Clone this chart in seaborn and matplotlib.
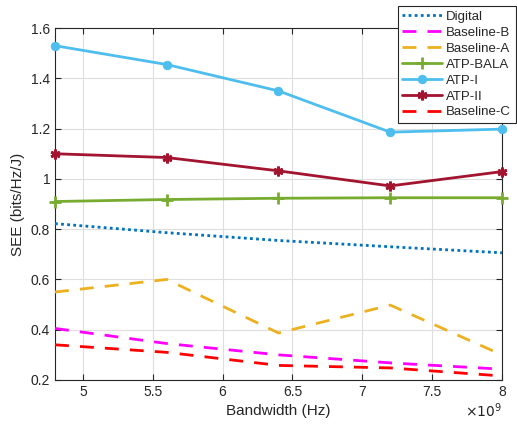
import matplotlib
matplotlib.use("Agg")
import matplotlib.pyplot as plt
import seaborn as sns
import numpy as np
import pandas as pd
from matplotlib.ticker import FuncFormatter

bandwidth = [4.8e9, 5.6e9, 6.4e9, 7.2e9, 8.0e9]
digital = [0.822, 0.786, 0.755, 0.730, 0.706]
baseline_b = [0.405, 0.345, 0.300, 0.268, 0.243]
baseline_a = [0.550, 0.600, 0.387, 0.498, 0.300]
atp_bala = [0.910, 0.918, 0.923, 0.925, 0.925]
atp_i = [1.530, 1.455, 1.350, 1.186, 1.198]
atp_ii = [1.100, 1.085, 1.032, 0.972, 1.029]
baseline_c = [0.340, 0.310, 0.258, 0.248, 0.216]

series_names = ["Digital", "Baseline-B", "Baseline-A", "ATP-BALA", "ATP-I", "ATP-II", "Baseline-C"]
series_vals = [digital, baseline_b, baseline_a, atp_bala, atp_i, atp_ii, baseline_c]
x_ticks = [5e9, 5.5e9, 6e9, 6.5e9, 7e9, 7.5e9, 8e9]
y_ticks = [0.2, 0.4, 0.6, 0.8, 1.0, 1.2, 1.4, 1.6]

sns.set_theme(style="whitegrid")
plt.rcParams['font.family'] = ['Liberation Sans', 'DejaVu Sans']

styles = {
    "Digital": dict(color=(0, 0.447, 0.741), linestyle=(0, (1, 1.2)), marker=None),
    "Baseline-B": dict(color=(1, 0, 1), linestyle=(0, (5, 4)), marker=None),
    "Baseline-A": dict(color=(0.929, 0.694, 0.125), linestyle=(0, (5, 4)), marker=None),
    "ATP-BALA": dict(color=(0.466, 0.674, 0.188), linestyle='-', marker='+', markersize=8, markeredgewidth=2),
    "ATP-I": dict(color=(0.301, 0.745, 0.933), linestyle='-', marker='o', markersize=6),
    "ATP-II": dict(color=(0.635, 0.078, 0.184), linestyle='-', marker=(6, 2, 0), markersize=7, markeredgewidth=2),
    "Baseline-C": dict(color=(1, 0, 0), linestyle=(0, (5, 4)), marker=None),
}

fig = plt.figure(figsize=(5.17, 4.24), dpi=100)
ax = fig.add_axes([0.1064, 0.1038, 0.8645, 0.830])

for name, vals in zip(series_names, series_vals):
    df = pd.DataFrame({"x": bandwidth, "y": vals})
    st = dict(styles[name])
    col = st.pop("color")
    ls = st.pop("linestyle")
    sns.lineplot(data=df, x="x", y="y", ax=ax, color=col, linewidth=2, label=name,
                 **{k: v for k, v in st.items() if v is not None})
    ln = ax.lines[-1]
    ln.set_linestyle(ls)
    ln.set_clip_on(False)
    ln.set_zorder(3)
    if st.get("marker"):
        ln.set_markeredgecolor(col)
        ln.set_markerfacecolor(col)

ax.set_xlim(4.8e9, 8e9)
ax.set_ylim(0.2, 1.6)
ax.set_xticks(x_ticks)
ax.set_yticks(y_ticks)
ax.xaxis.set_major_formatter(FuncFormatter(lambda v, p: f"{v/1e9:g}"))
ax.yaxis.set_major_formatter(FuncFormatter(lambda v, p: f"{v:g}"))
ax.text(1.0, -0.062, r"$\times10^{9}$", transform=ax.transAxes, ha='right', va='top',
        fontsize=10, color='#262626')

ax.set_xlabel("Bandwidth (Hz)", fontsize=11, color='#262626', labelpad=4)
ax.set_ylabel("SEE (bits/Hz/J)", fontsize=11, color='#262626', labelpad=4)
ax.tick_params(axis='both', labelsize=10, colors='#262626', direction='in', length=4,
               top=True, right=True, bottom=True, left=True, width=0.8)
ax.grid(True, color='#dedede', linewidth=0.8)
for sp in ax.spines.values():
    sp.set_color('#262626')
    sp.set_linewidth(0.8)
ax.set_facecolor('white')

handles, labels = ax.get_legend_handles_labels()
ax.get_legend().remove()
leg = fig.legend(handles, labels, loc='upper right', bbox_to_anchor=(515.5 / 517, 1 - 6 / 424),
                 fontsize=9.5, frameon=True, fancybox=False, framealpha=1, edgecolor='#262626',
                 handlelength=3.0, borderpad=0.35, labelspacing=0.28, handletextpad=0.3,
                 borderaxespad=0)
leg.get_frame().set_linewidth(0.8)
leg.set_zorder(10)

fig.savefig("out.png", dpi=100)
